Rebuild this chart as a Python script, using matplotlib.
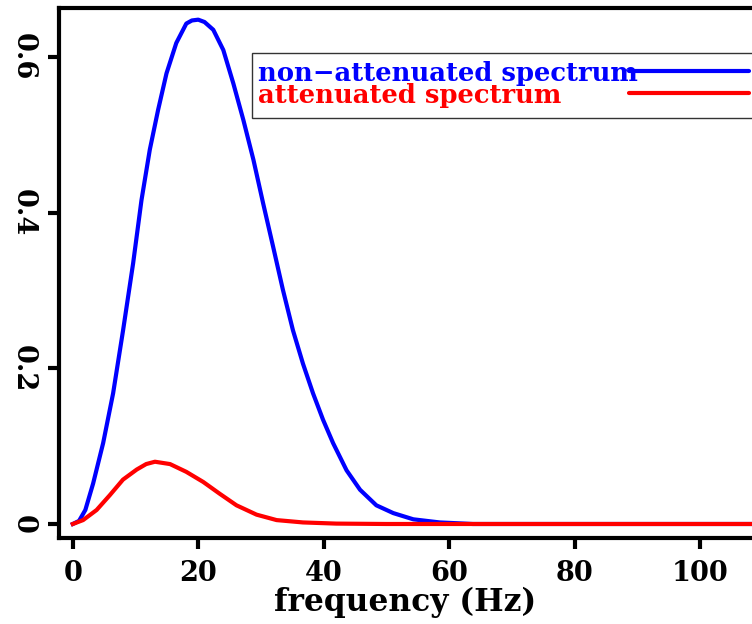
import numpy as np
import matplotlib.pyplot as plt
from matplotlib.lines import Line2D
from matplotlib.patches import Rectangle

# values
freq_blue = [0, 1.0, 2.0, 3.24, 4.84, 6.43, 8.02, 9.62, 10.95, 12.28, 13.6, 14.94,
             16.5, 18.1, 19.0, 20.0, 21.0, 22.4, 24.0, 25.6, 27.2, 28.8, 30.35, 31.95,
             33.5, 35.1, 36.7, 38.3, 39.9, 41.5, 43.65, 45.8, 48.4, 51.1, 54.3, 58.5,
             63.8, 70, 80, 90, 100, 110]
amp_blue = [0, 0.004, 0.018, 0.052, 0.104, 0.168, 0.249, 0.335, 0.416, 0.481, 0.532,
            0.579, 0.618, 0.643, 0.647, 0.648, 0.645, 0.635, 0.609, 0.566, 0.519,
            0.468, 0.412, 0.356, 0.301, 0.249, 0.206, 0.168, 0.134, 0.104, 0.069,
            0.044, 0.024, 0.014, 0.006, 0.002, 0, 0, 0, 0, 0, 0]

freq_red = [0, 1.64, 3.8, 5.9, 8.0, 10.2, 11.7, 13.1, 15.5, 18.1, 20.8, 23.4, 26.1,
            29.3, 32.5, 36.7, 42, 50, 60, 80, 100, 110]
amp_red = [0, 0.005, 0.018, 0.037, 0.057, 0.070, 0.077, 0.080, 0.077, 0.067, 0.054,
           0.039, 0.024, 0.012, 0.005, 0.002, 0.0005, 0, 0, 0, 0, 0]

xticks = [0, 20, 40, 60, 80, 100]
yticks = [0, 0.2, 0.4, 0.6]
ylabels = ["0", "0.2", "0.4", "0.6"]
labels = ['non\u2212attenuated spectrum', 'attenuated spectrum']
colors = ['blue', 'red']

plt.rcParams['font.family'] = ['DejaVu Serif']
plt.rcParams['font.weight'] = 'bold'

W, H = 752, 624
fig = plt.figure(figsize=(W / 100, H / 100), dpi=100)
ax = fig.add_axes([59 / W, 86 / H, 1 - 59 / W, 530 / H])

ax.plot(freq_blue, amp_blue, color=colors[0], lw=3)
ax.plot(freq_red, amp_red, color=colors[1], lw=3)

ax.set_xlim(-2.2, 108.3)
ax.set_ylim(-0.018, 0.663)
ax.set_xticks(xticks)
ax.set_yticks(yticks)
ax.set_yticklabels(ylabels, rotation=270, va='center')
ax.tick_params(width=3, length=8, labelsize=19.5, pad=8)
for s in ['left', 'top', 'bottom']:
    ax.spines[s].set_linewidth(3)
ax.spines['right'].set_visible(False)

ax.set_xlabel('frequency (Hz)', fontsize=22.5, fontweight='bold', labelpad=0)

# legend drawn by hand: text on the left, line keys on the right (box runs off the edge)
def fx(px):
    return px / W

def fy(py):
    return 1 - py / H

fig.add_artist(Rectangle((fx(252), fy(118)), fx(760) - fx(252), fy(53) - fy(118),
                         transform=fig.transFigure, facecolor='white',
                         edgecolor='#333333', lw=1, zorder=5))
text_base = [81.5, 102.5]
key_y = [70.7, 92.7]
for lab, c, tb, ky in zip(labels, colors, text_base, key_y):
    fig.text(fx(258), fy(tb), lab, color=c, fontsize=18.6, fontweight='bold',
             va='baseline', ha='left', zorder=6)
    fig.add_artist(Line2D([fx(629), fx(749)], [fy(ky), fy(ky)], color=c, lw=3,
                          solid_capstyle='round', transform=fig.transFigure, zorder=7))

plt.savefig('out.png', dpi=100)
